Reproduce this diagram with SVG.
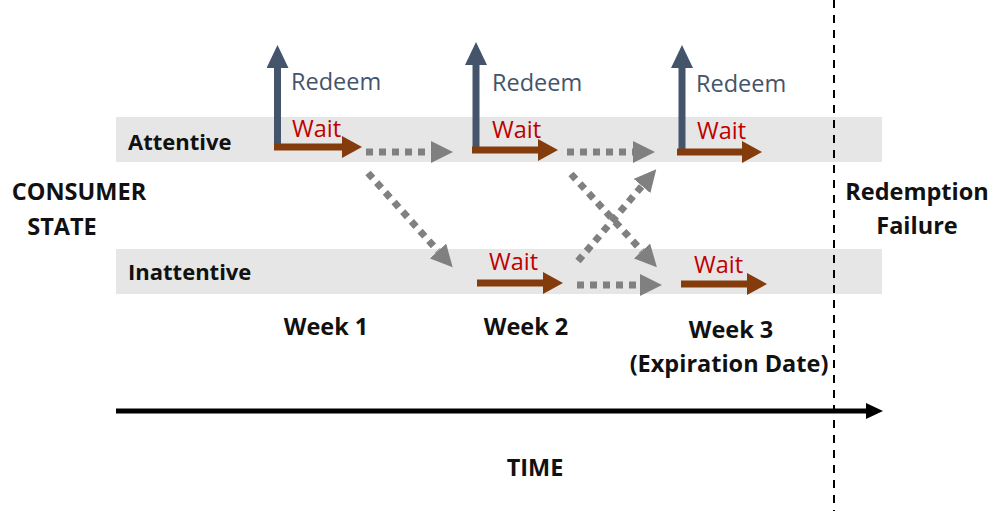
<svg xmlns="http://www.w3.org/2000/svg" width="990" height="511" viewBox="0 0 990 511">
<style>
.band{fill:#E6E6E6}
.lbl{font-family:"Open Sans","Noto Sans",sans-serif;font-weight:bold;font-size:23.5px;fill:#111}
.row{font-family:"Open Sans","Noto Sans",sans-serif;font-weight:bold;font-size:22px;fill:#111}
.red{font-family:"Open Sans","Noto Sans",sans-serif;font-size:23.5px;fill:#C00000}
.blue{font-family:"Open Sans","Noto Sans",sans-serif;font-size:23.5px;fill:#44546A}
.redeem{stroke:#44546A;stroke-width:7;fill:none;marker-end:url(#hBlue)}
.wait{stroke:#843C0C;stroke-width:7;fill:none;marker-end:url(#hBrown)}
.dot{stroke:#808080;stroke-width:7;fill:none;stroke-dasharray:7 6;marker-end:url(#hGray)}
</style>
<defs>
<marker id="hBlue" markerUnits="userSpaceOnUse" markerWidth="24" markerHeight="22" refX="0" refY="11" orient="auto"><path d="M0,0 L23,11 L0,22 z" fill="#44546A"/></marker>
<marker id="hBrown" markerUnits="userSpaceOnUse" markerWidth="22" markerHeight="22" refX="0" refY="11" orient="auto"><path d="M0,0 L20,11 L0,22 z" fill="#843C0C"/></marker>
<marker id="hGray" markerUnits="userSpaceOnUse" markerWidth="24" markerHeight="22" refX="0" refY="11" orient="auto"><path d="M0,0 L22,11 L0,22 z" fill="#808080"/></marker>
<marker id="hBlack" markerUnits="userSpaceOnUse" markerWidth="18" markerHeight="16" refX="0" refY="8" orient="auto"><path d="M0,0 L17,8 L0,16 z" fill="#000"/></marker>
</defs>

<g id="band-attentive"><rect class="band" x="116" y="117" width="766" height="45"/><text class="row" x="128" y="150">Attentive</text></g>
<g id="band-inattentive"><rect class="band" x="116" y="249" width="766" height="45"/><text class="row" x="128" y="280">Inattentive</text></g>

<g id="consumer-state"><text class="lbl" text-anchor="middle" x="79" y="200">CONSUMER</text><text class="lbl" text-anchor="middle" x="62" y="235">STATE</text></g>
<g id="redemption-failure"><text class="lbl" text-anchor="middle" x="917" y="200">Redemption</text><text class="lbl" text-anchor="middle" x="917" y="234">Failure</text></g>

<g id="week1"><text class="lbl" text-anchor="middle" x="326" y="335">Week 1</text></g>
<g id="week2"><text class="lbl" text-anchor="middle" x="526" y="335">Week 2</text></g>
<g id="week3"><text class="lbl" text-anchor="middle" x="731" y="338">Week 3</text><text class="lbl" text-anchor="middle" x="729" y="372">(Expiration Date)</text></g>
<g id="time"><text class="lbl" text-anchor="middle" x="535" y="476">TIME</text></g>

<g id="labels">
<text class="blue" x="291" y="90">Redeem</text>
<text class="blue" x="492" y="91">Redeem</text>
<text class="blue" x="696" y="92">Redeem</text>
<text class="red" x="292" y="137">Wait</text>
<text class="red" x="492" y="138">Wait</text>
<text class="red" x="697" y="139">Wait</text>
<text class="red" x="489" y="270">Wait</text>
<text class="red" x="694" y="273">Wait</text>
</g>

<g id="connectors">
<line x1="834" y1="0" x2="834" y2="511" stroke="#000" stroke-width="2" stroke-dasharray="8 7"/>
<line x1="116" y1="411" x2="866" y2="411" stroke="#000" stroke-width="5" marker-end="url(#hBlack)"/>

<line class="redeem" x1="277.5" y1="150" x2="277.5" y2="68"/>
<line class="redeem" x1="476" y1="152" x2="476" y2="65"/>
<line class="redeem" x1="682" y1="154" x2="682" y2="68"/>

<line class="wait" x1="274" y1="147" x2="342" y2="147"/>
<line class="wait" x1="472" y1="150" x2="538" y2="150"/>
<line class="wait" x1="677" y1="152" x2="742" y2="152"/>
<line class="wait" x1="477" y1="283" x2="543" y2="283"/>
<line class="wait" x1="681" y1="284" x2="747" y2="284"/>

<line class="dot" x1="366" y1="152" x2="431" y2="152"/>
<line class="dot" x1="567" y1="152" x2="633" y2="152"/>
<line class="dot" x1="577" y1="285" x2="640" y2="285"/>
<line class="dot" x1="368" y1="173" x2="438" y2="251"/>
<line class="dot" x1="571" y1="174" x2="642" y2="251"/>
<line class="dot" x1="578" y1="261" x2="642" y2="186"/>
</g>
</svg>
